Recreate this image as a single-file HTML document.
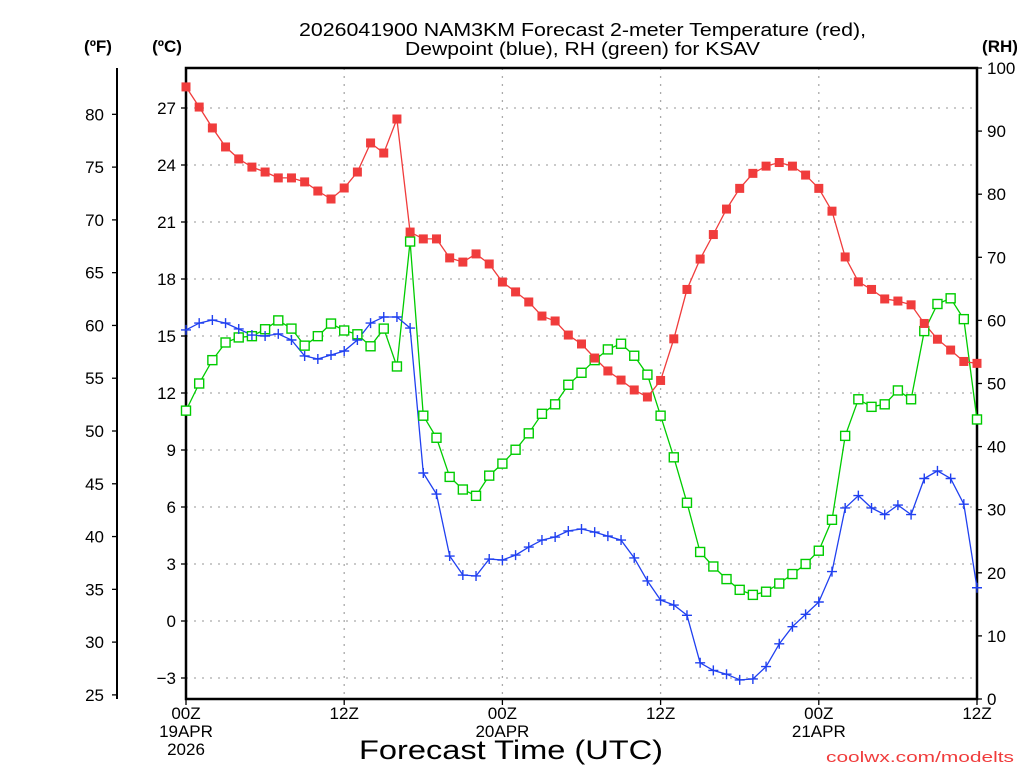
<!DOCTYPE html>
<html><head><meta charset="utf-8"><style>
html,body{margin:0;padding:0;background:#fff;}
svg{display:block;font-family:"Liberation Sans",sans-serif;}
</style></head><body>
<svg id="chart" width="1024" height="768" viewBox="0 0 1024 768" xmlns="http://www.w3.org/2000/svg">
<text x="299" y="36" font-size="18" fill="#000" textLength="567" lengthAdjust="spacingAndGlyphs">2026041900 NAM3KM Forecast 2-meter Temperature (red),</text>
<text x="405" y="55" font-size="18" fill="#000" textLength="355" lengthAdjust="spacingAndGlyphs">Dewpoint (blue), RH (green) for KSAV</text>
<text x="98" y="52" text-anchor="middle" font-size="17" font-weight="bold">(ºF)</text>
<text x="167" y="52" text-anchor="middle" font-size="17" font-weight="bold">(ºC)</text>
<text x="1000" y="52" text-anchor="middle" font-size="17" font-weight="bold">(RH)</text>
<text x="359" y="759" font-size="27" textLength="304" lengthAdjust="spacingAndGlyphs">Forecast Time (UTC)</text>
<text x="826" y="762" font-size="15" fill="#f03c3c" textLength="188" lengthAdjust="spacingAndGlyphs">coolwx.com/modelts</text>
<g id="grid"></g><g id="axes"></g><g id="series"></g>
</svg>
<script>
const hours = [];
for (let i = 0; i <= 60; i++) hours.push(i);
const tempC = [28.11,27.05,25.95,24.95,24.32,23.89,23.63,23.32,23.32,23.11,22.63,22.21,22.79,23.63,25.16,24.63,26.42,20.47,20.11,20.11,19.11,18.89,19.32,18.79,17.84,17.32,16.79,16.05,15.79,15.05,14.58,13.84,13.16,12.68,12.16,11.79,12.66,14.85,17.45,19.05,20.34,21.68,22.77,23.56,23.94,24.13,23.94,23.47,22.77,21.57,19.16,17.85,17.45,16.95,16.84,16.64,15.66,14.83,14.26,13.66,13.56];
const dewC = [15.32,15.68,15.84,15.68,15.37,15.05,15.0,15.11,14.79,13.95,13.79,14.0,14.21,14.79,15.68,16.0,16.0,15.42,7.79,6.68,3.42,2.42,2.37,3.26,3.21,3.47,3.89,4.26,4.42,4.74,4.84,4.68,4.47,4.26,3.32,2.11,1.1,0.84,0.3,-2.2,-2.6,-2.8,-3.1,-3.05,-2.4,-1.2,-0.3,0.35,1.0,2.6,5.95,6.6,5.95,5.6,6.1,5.6,7.5,7.9,7.5,6.15,1.75];
const rh = [45.7,50.0,53.7,56.5,57.3,57.5,58.6,60.0,58.7,56.0,57.5,59.5,58.4,57.8,55.9,58.7,52.7,72.5,44.9,41.4,35.2,33.2,32.2,35.4,37.3,39.5,42.1,45.2,46.7,49.8,51.7,53.7,55.4,56.3,54.4,51.4,44.9,38.3,31.1,23.3,21.0,19.0,17.3,16.5,17.0,18.3,19.8,21.4,23.5,28.4,41.7,47.5,46.3,46.7,48.9,47.5,58.3,62.6,63.5,60.2,44.3];
const cTicks = [-3,0,3,6,9,12,15,18,21,24,27];
const fTicks = [25,30,35,40,45,50,55,60,65,70,75,80];
const rhTicks = [0,10,20,30,40,50,60,70,80,90,100];
const xTickHours = [0,12,24,36,48,60];
const xTickLabels = [["00Z","19APR","2026"],["12Z"],["00Z","20APR"],["12Z"],["00Z","21APR"],["12Z"]];

const L=186,R=977,T=68,B=699;
const xs = h => L + h*(R-L)/60;
const yC = c => 621 - c*19;
const yF = f => yC((f-32)*5/9);
const yR = r => B - r*(B-T)/100;
const NS="http://www.w3.org/2000/svg";
function mk(tag, attrs, parent){const e=document.createElementNS(NS,tag);for(const k in attrs)e.setAttribute(k,attrs[k]);parent.appendChild(e);return e;}
const grid=document.getElementById('grid'), axes=document.getElementById('axes'), ser=document.getElementById('series');

cTicks.forEach(c=>{
  const g=mk('line',{x1:L,x2:R,y1:yC(c),y2:yC(c),stroke:'#aaa','stroke-width':1.3,'stroke-dasharray':'2,6'},grid);
  
  
  const t=mk('line',{x1:L-5,x2:L,y1:yC(c),y2:yC(c),stroke:'#000','stroke-width':1.3},axes);
  
  
  const tx=mk('text',{x:L-10,y:yC(c)+6,'text-anchor':'end','font-size':17},axes);
  tx.textContent = c<0 ? '\u2212'+(-c) : String(c);
  
  
});
xTickHours.forEach((h,i)=>{
  if(h>0&&h<60){
    const g=mk('line',{x1:xs(h),x2:xs(h),y1:T,y2:B,stroke:'#aaa','stroke-width':1.3,'stroke-dasharray':'2,6'},grid);
    
    
  }
  const t=mk('line',{x1:xs(h),x2:xs(h),y1:B,y2:B+6,stroke:'#000','stroke-width':1.3},axes);
  
  
  xTickLabels[i].forEach((s,j)=>{
    const tx=mk('text',{x:xs(h),y:B+20+j*18,'text-anchor':'middle','font-size':17},axes);
    tx.textContent=s;
    
    
  });
});
fTicks.forEach(f=>{
  const t=mk('line',{x1:112,x2:117,y1:yF(f),y2:yF(f),stroke:'#000','stroke-width':1.3},axes);
  
  
  const tx=mk('text',{x:104,y:yF(f)+6,'text-anchor':'end','font-size':17},axes);
  tx.textContent=String(f);
  
  
});
rhTicks.forEach(r=>{
  const t=mk('line',{x1:R,x2:R+5,y1:yR(r),y2:yR(r),stroke:'#000','stroke-width':1.3},axes);
  
  
  const tx=mk('text',{x:R+10,y:yR(r)+6,'text-anchor':'start','font-size':17},axes);
  tx.textContent=String(r);
  
  
});
const fAxis=mk('line',{x1:117,x2:117,y1:T,y2:B,stroke:'#000','stroke-width':2},axes);


const box=mk('rect',{x:L,y:T,width:R-L,height:B-T,fill:'none',stroke:'#000','stroke-width':2.5},axes);



function line(vals, yf, color, name){
  const pts=vals.map((v,i)=>xs(hours[i]).toFixed(1)+','+yf(v).toFixed(1)).join(' ');
  const p=mk('polyline',{points:pts,fill:'none',stroke:color,'stroke-width':1.3},ser);
  
  
}
line(rh,yR,'#00cc00','rh');
line(dewC,yC,'#2040f0','dewpoint');
line(tempC,yC,'#f03c3c','temperature');
rh.forEach((v,i)=>{
  const m=mk('rect',{x:xs(hours[i])-4.5,y:yR(v)-4.5,width:9,height:9,fill:'#fff',stroke:'#00cc00','stroke-width':1.4},ser);
  
  
});
dewC.forEach((v,i)=>{
  const x=xs(hours[i]),y=yC(v);
  const m=mk('path',{d:`M${x-5},${y}H${x+5}M${x},${y-5}V${y+5}`,stroke:'#2040f0','stroke-width':1.4},ser);
  
  
});
tempC.forEach((v,i)=>{
  const m=mk('rect',{x:xs(hours[i])-4.5,y:yC(v)-4.5,width:9,height:9,fill:'#f03c3c'},ser);
  
  
});
</script>
</body></html>
